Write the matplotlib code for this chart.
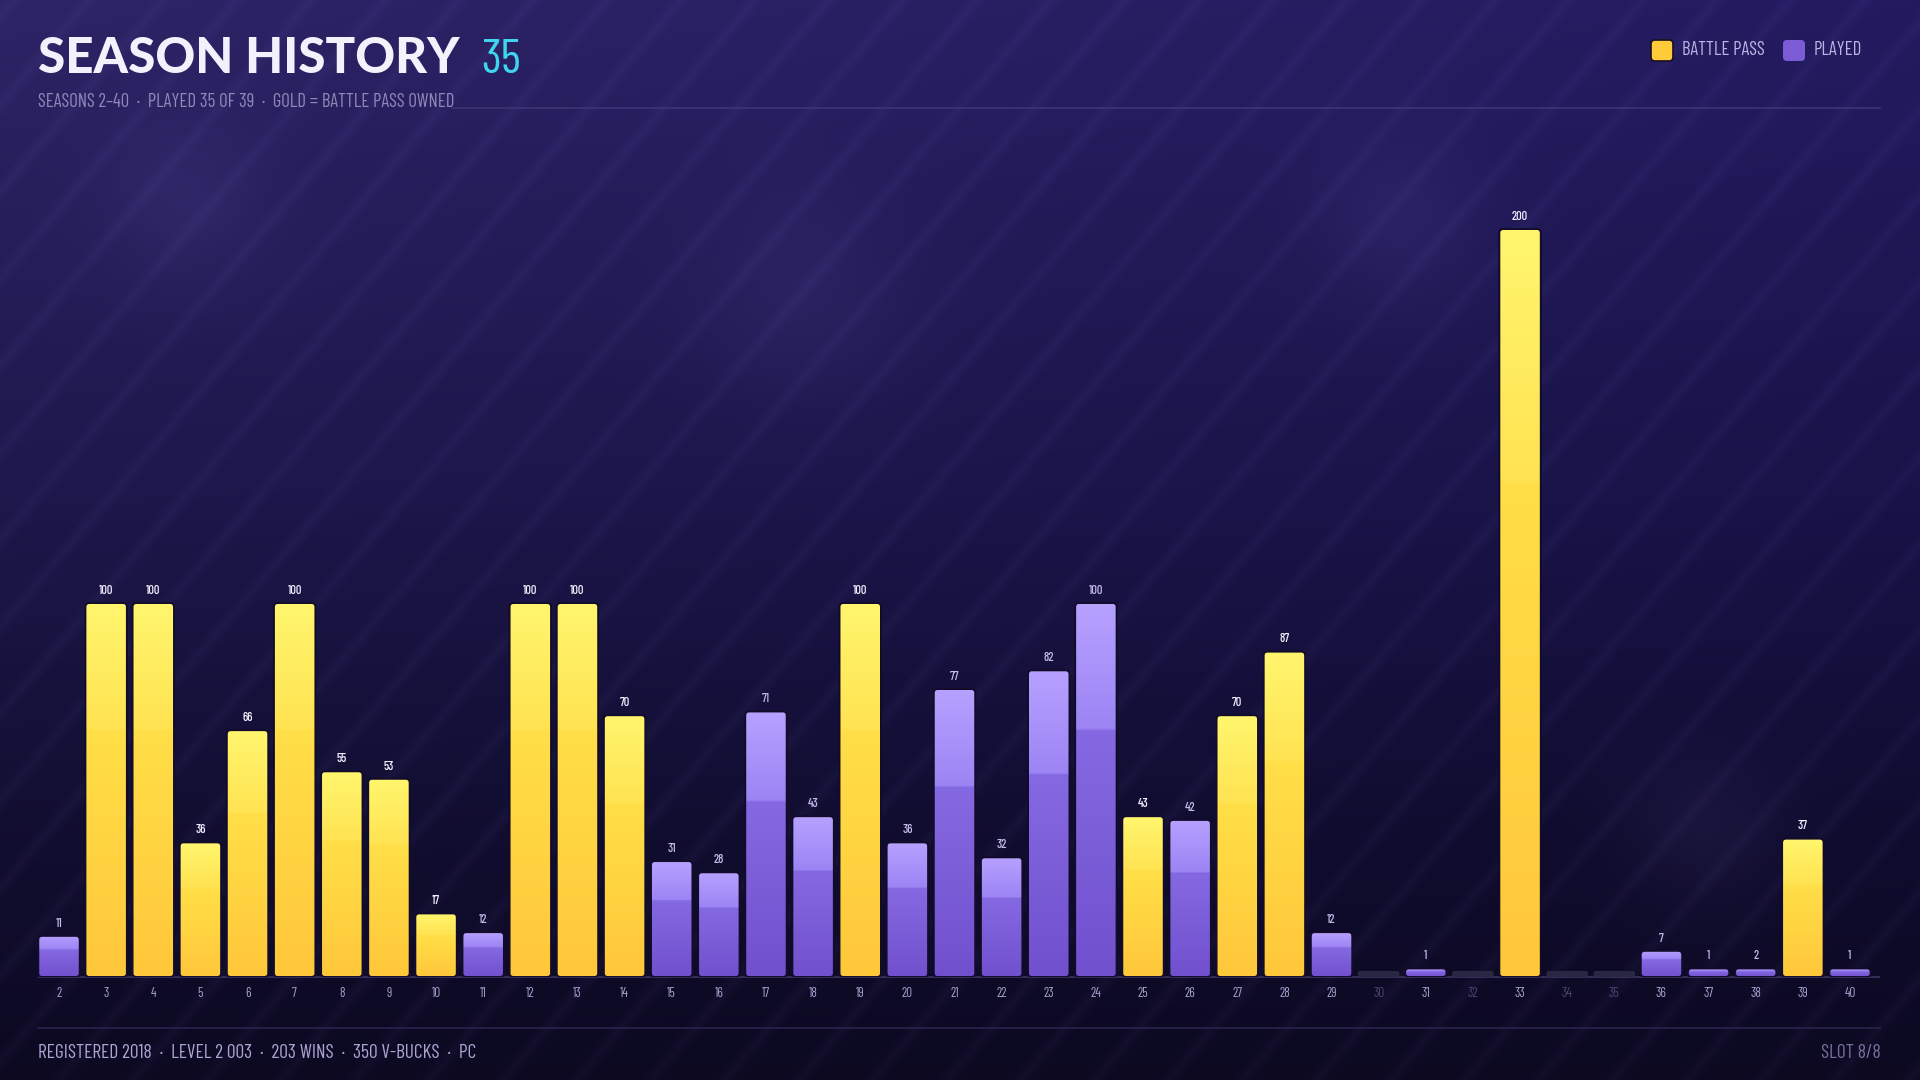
import numpy as np
import matplotlib
matplotlib.use("Agg")
import matplotlib.pyplot as plt
from matplotlib.patches import FancyBboxPatch
from matplotlib.colors import LinearSegmentedColormap

# season data
seasons = list(range(2, 41))
levels = [11, 100, 100, 36, 66, 100, 55, 53, 17, 12, 100, 100, 70, 31, 28, 71, 43, 100,
          36, 77, 32, 82, 100, 43, 42, 70, 87, 12, 0, 1, 0, 200, 0, 0, 7, 1, 2, 37, 1]
battle_pass = [3, 4, 5, 6, 7, 8, 9, 10, 12, 13, 14, 19, 25, 27, 28, 33, 39]

title = "SEASON HISTORY"
title_count = "35"
subtitle = "SEASONS 2\u201340  \u00b7  PLAYED 35 OF 39  \u00b7  GOLD = BATTLE PASS OWNED"
footer_left = "REGISTERED 2018  \u00b7  LEVEL 2 003  \u00b7  203 WINS  \u00b7  350 V-BUCKS  \u00b7  PC"
footer_right = "SLOT 8/8"
legend_items = [("BATTLE PASS", "#FFCB3A"), ("PLAYED", "#7B5CD6")]

W, H = 1920, 1080
NARROW = ["Barlow Condensed", "Roboto Condensed", "DejaVu Sans"]
HEAVY = ["Lato", "DejaVu Sans"]

def fx(px):
    return px / W

def fy(py):
    return 1 - py / H

fig = plt.figure(figsize=(19.2, 10.8), dpi=100)

# ---- background: gradient + diagonal stripes + soft blobs
bg = fig.add_axes([0, 0, 1, 1], zorder=0)
bg.set_axis_off()
yy, xx = np.mgrid[0:H, 0:W].astype(float)
t = yy / H
stops_t = [0.0, 0.45, 0.8, 1.0]
stops_c = np.array([[45, 36, 102], [30, 24, 76], [17, 13, 46], [12, 9, 33]], float)
img = np.zeros((H, W, 3))
for c in range(3):
    img[..., c] = np.interp(t, stops_t, stops_c[:, c])
img -= (xx / W * (1 - t) * 10)[..., None] * np.array([1.0, 0.9, 0.6])
u = (xx + yy * 0.85) % 74
band = np.clip(1 - np.abs(u - 14) / 12, 0, 1)
img += (band * 6)[..., None] * np.array([1.0, 0.9, 1.4])
for bx, by, br in [(185, 205, 60), (800, 295, 75), (1400, 225, 60), (1705, 830, 55)]:
    d = np.exp(-((xx - bx) ** 2 + (yy - by) ** 2) / (2 * br ** 2))
    img += (d * 9)[..., None] * np.array([1.0, 0.9, 1.3])
bg.imshow(np.clip(img, 0, 255).astype(np.uint8), extent=(0, 1, 0, 1), aspect="auto",
          interpolation="bilinear")
bg.set_xlim(0, 1)
bg.set_ylim(0, 1)

# ---- chart axes
ax_left, ax_right, ax_top, ax_base = 33, 1880, 140, 977
ax = fig.add_axes([fx(ax_left), fy(ax_base), (ax_right - ax_left) / W, (ax_base - ax_top) / H],
                  zorder=2)
ax.patch.set_alpha(0)
n = len(seasons)
xlim = (-0.552, n - 1 + 0.637)
ylim = (0, 223.8)
ax.set_xlim(*xlim)
ax.set_ylim(*ylim)
for s in ax.spines.values():
    s.set_visible(False)
ax.set_yticks([])

x_per_px = (xlim[1] - xlim[0]) / (ax_right - ax_left)
y_per_px = (ylim[1] - ylim[0]) / (ax_base - ax_top)
aspect = y_per_px / x_per_px

gold_cmap = LinearSegmentedColormap.from_list(
    "gold", [(0, "#FFC73A"), (0.66, "#FFDF48"), (0.665, "#FFE352"), (1, "#FFF66E")])
purple_cmap = LinearSegmentedColormap.from_list(
    "purple", [(0, "#7150CD"), (0.66, "#8569E2"), (0.665, "#9C84F4"), (1, "#B7A1FF")])

min_h = 8.6 * y_per_px
stub_h = 6 * y_per_px
xpos = np.arange(n)
shown = [max(v, min_h) if v > 0 else stub_h for v in levels]
bars = ax.bar(xpos, shown, width=0.88, color="none", edgecolor="none")

grad = np.linspace(0, 1, 256)[:, None]
for rect, season, v in zip(bars, seasons, levels):
    x0, w, h = rect.get_x(), rect.get_width(), rect.get_height()
    if v == 0:
        stub = FancyBboxPatch((x0, 0), w, h, boxstyle="round,pad=0,rounding_size=%f" % (2 * x_per_px),
                              mutation_aspect=aspect, fc="#2a2742", ec="none", zorder=3)
        ax.add_patch(stub)
        continue
    gold = season in battle_pass
    r = min(4, h / y_per_px / 2.2) * x_per_px
    patch = FancyBboxPatch((x0, 0), w, h, boxstyle="round,pad=0,rounding_size=%f" % r,
                           mutation_aspect=aspect, fc="none", ec="#120c2a", lw=1.4, zorder=4)
    ax.add_patch(patch)
    im = ax.imshow(grad, extent=(x0, x0 + w, 0, h), origin="lower", aspect="auto",
                   cmap=gold_cmap if gold else purple_cmap, zorder=3, interpolation="bilinear")
    im.set_clip_path(patch)
    ax.annotate(str(v), (rect.get_x() + w / 2, h), xytext=(0, 4.5), textcoords="offset points",
                ha="center", va="bottom", fontsize=9, family=NARROW, fontweight="medium",
                color="#F2EFFF" if gold else "#C4BCEC", zorder=5)

ax.set_xlim(*xlim)
ax.set_ylim(*ylim)
ax.plot([xlim[0] + 5 * x_per_px, xlim[1]], [0, 0], color="#3a3462", lw=1.2, zorder=2,
        solid_capstyle="butt", clip_on=False)

ax.set_xticks(xpos)
ax.set_xticklabels([str(s) for s in seasons], family=NARROW, fontsize=9.5)
ax.tick_params(axis="x", length=0, pad=7)
for lbl, v in zip(ax.get_xticklabels(), levels):
    lbl.set_color("#A7A1CF" if v > 0 else "#4B4572")

# ---- header
fig.text(fx(38), fy(73), title, family=HEAVY, fontweight=900, fontsize=35.5,
         color="#F3F1FB", va="baseline", ha="left", zorder=5)
fig.text(fx(481), fy(73), title_count, family=NARROW, fontsize=35, color="#3FD5EF",
         va="baseline", ha="left", zorder=5)
fig.text(fx(38), fy(107), subtitle, family=NARROW, fontsize=13.5, color="#8F88B8",
         va="baseline", ha="left", zorder=5)
fig.add_artist(plt.Line2D([fx(452), fx(1880)], [fy(108), fy(108)], color="#3f3678", lw=1.1,
                          zorder=3))

lx = [1651, 1783]
for (name, col), x in zip(legend_items, lx):
    sq = FancyBboxPatch((fx(x), fy(61)), 22 / W, 21 / H,
                        boxstyle="round,pad=0,rounding_size=%f" % (4 / W),
                        mutation_aspect=W / H, transform=fig.transFigure,
                        fc=col, ec="#1a0f22" if name == "BATTLE PASS" else "none", lw=1.2,
                        zorder=5)
    fig.add_artist(sq)
    fig.text(fx(x + 31), fy(50), name, family=NARROW, fontsize=13.5, color="#BBB4E4",
             va="center", ha="left", zorder=5)

# ---- footer
fig.add_artist(plt.Line2D([fx(38), fx(1880)], [fy(1028), fy(1028)], color="#241f45", lw=1.5,
                          zorder=3))
fig.text(fx(38), fy(1053), footer_left, family=NARROW, fontsize=14, color="#ACA5D2",
         va="center", ha="left", zorder=5)
fig.text(fx(1881), fy(1053), footer_right, family=NARROW, fontsize=14, color="#77709E",
         va="center", ha="right", zorder=5)

fig.savefig("out.png", dpi=100)
